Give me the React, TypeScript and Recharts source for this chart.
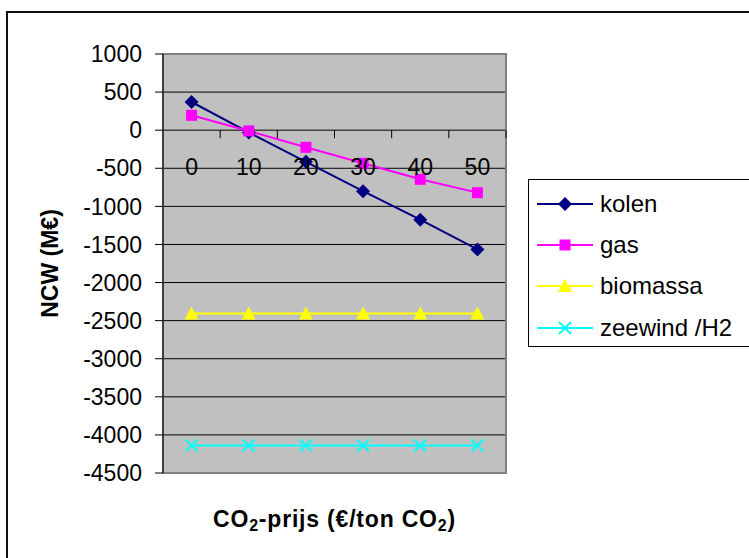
import React from 'react';
import { LineChart, Line, XAxis, YAxis, CartesianGrid, ReferenceArea, Legend, Label } from 'recharts';

// CO2 price categories (€/ton CO2)
const prices = ['0', '10', '20', '30', '40', '50'];

// NCW per option (M€)
const kolen = [370, -30, -415, -800, -1175, -1565];
const gas = [195, -10, -225, -435, -645, -820];
const biomassa = [-2405, -2405, -2405, -2405, -2405, -2405];
const zeewind = [-4140, -4140, -4140, -4140, -4140, -4140];

const yTicks = [1000, 500, 0, -500, -1000, -1500, -2000, -2500, -3000, -3500, -4000, -4500];

const data = prices.map((price, i) => ({
    price,
    kolen: kolen[i],
    gas: gas[i],
    biomassa: biomassa[i],
    zeewind: zeewind[i],
}));

const FONT = '"Liberation Sans", Arial, sans-serif';

const WIDTH = 749;
const HEIGHT = 558;
const MARGIN = { top: 54, right: 243, bottom: 0, left: 0 };
const Y_AXIS_W = 163;
const X_AXIS_H = 85;
const Y_MIN = -4500;
const Y_MAX = 1000;

const PLOT_W = WIDTH - MARGIN.right - MARGIN.left - Y_AXIS_W;
const PLOT_H = HEIGHT - MARGIN.top - MARGIN.bottom - X_AXIS_H;
// category axis is drawn along the zero line, Excel style
const ZERO_Y = MARGIN.top + (PLOT_H * Y_MAX) / (Y_MAX - Y_MIN);

type Marker = 'diamond' | 'square' | 'triangle' | 'cross';

const series: { key: 'kolen' | 'gas' | 'biomassa' | 'zeewind'; name: string; color: string; marker: Marker }[] = [
    { key: 'kolen', name: 'kolen', color: '#000080', marker: 'diamond' },
    { key: 'gas', name: 'gas', color: '#FF00FF', marker: 'square' },
    { key: 'biomassa', name: 'biomassa', color: '#FFFF00', marker: 'triangle' },
    { key: 'zeewind', name: 'zeewind /H2', color: '#00FFFF', marker: 'cross' },
];

const MarkerShape = ({ cx, cy, color, marker }: { cx: number; cy: number; color: string; marker: Marker }) => {
    if (marker === 'diamond') {
        return <polygon points={`${cx},${cy - 7} ${cx + 7},${cy} ${cx},${cy + 7} ${cx - 7},${cy}`} fill={color} />;
    }
    if (marker === 'square') {
        return <rect x={cx - 5.5} y={cy - 5.5} width={11} height={11} fill={color} />;
    }
    if (marker === 'triangle') {
        return <polygon points={`${cx},${cy - 7} ${cx + 7},${cy + 6} ${cx - 7},${cy + 6}`} fill={color} />;
    }
    return (
        <g stroke={color} strokeWidth={2}>
            <line x1={cx - 6} y1={cy - 6} x2={cx + 6} y2={cy + 6} />
            <line x1={cx - 6} y1={cy + 6} x2={cx + 6} y2={cy - 6} />
        </g>
    );
};

const CategoryTick = (props: any) => {
    const { x, payload } = props;
    const band = PLOT_W / prices.length;
    const edge = x + band / 2;
    return (
        <g>
            <line x1={edge} x2={edge} y1={ZERO_Y} y2={ZERO_Y + 8} stroke="#000" />
            <text
                x={x}
                y={ZERO_Y + 37}
                textAnchor="middle"
                dominantBaseline="central"
                fontSize={23}
                fontFamily={FONT}
                fill="#000"
            >
                {payload.value}
            </text>
        </g>
    );
};

const XTitle = () => (
    <text
        x={Y_AXIS_W + PLOT_W / 2}
        y={MARGIN.top + PLOT_H + 46}
        textAnchor="middle"
        dominantBaseline="central"
        fontSize={23}
        fontWeight="bold"
        fontFamily={FONT}
        letterSpacing={0.8}
        fill="#000"
    >
        CO<tspan fontSize={16} dy={6}>2</tspan>
        <tspan dy={-6}>-prijs (€/ton CO</tspan>
        <tspan fontSize={16} dy={6}>2</tspan>
        <tspan dy={-6}>)</tspan>
    </text>
);

const YTitle = () => {
    const cx = 50;
    const cy = MARGIN.top + PLOT_H / 2;
    return (
        <text
            x={cx}
            y={cy}
            transform={`rotate(-90, ${cx}, ${cy})`}
            textAnchor="middle"
            dominantBaseline="central"
            fontSize={23}
            fontWeight="bold"
            fontFamily={FONT}
            fill="#000"
        >
            NCW (M€)
        </text>
    );
};

const LegendBox = () => (
    <div
        style={{
            width: '100%',
            height: '100%',
            boxSizing: 'border-box',
            border: '1.5px solid #000',
            background: '#fff',
            paddingTop: 3,
            fontFamily: FONT,
        }}
    >
        {series.map((s) => (
            <div key={s.key} style={{ display: 'flex', alignItems: 'center', height: 41.3 }}>
                <svg width={66} height={20} style={{ display: 'block' }}>
                    <line x1={8} x2={64} y1={10} y2={10} stroke={s.color} strokeWidth={2} />
                    <MarkerShape cx={36} cy={10} color={s.color} marker={s.marker} />
                </svg>
                <span style={{ fontSize: 24, marginLeft: 5, color: '#000', lineHeight: 1 }}>{s.name}</span>
            </div>
        ))}
    </div>
);

export default function App() {
    return (
        <div style={{ position: 'absolute', left: 0, top: 0, width: WIDTH, height: HEIGHT, overflow: 'hidden', background: '#fff' }}>
            <div
                style={{
                    position: 'absolute',
                    left: 6,
                    top: 11,
                    width: WIDTH + 40,
                    height: HEIGHT + 40,
                    border: '2px solid #111',
                }}
            />
            <div style={{ position: 'absolute', left: 0, top: 0 }}>
                <LineChart width={WIDTH} height={HEIGHT} data={data} margin={MARGIN}>
                    <CartesianGrid vertical={false} stroke="#000" fill="#C0C0C0" fillOpacity={1} />
                    <ReferenceArea y1={Y_MIN} y2={Y_MAX} fill="none" stroke="#808080" strokeWidth={2} />
                    <XAxis
                        dataKey="price"
                        scale="band"
                        height={X_AXIS_H}
                        axisLine={false}
                        tickLine={false}
                        interval={0}
                        tick={<CategoryTick />}
                    >
                        <Label content={<XTitle />} />
                    </XAxis>
                    <YAxis
                        width={Y_AXIS_W}
                        domain={[Y_MIN, Y_MAX]}
                        ticks={yTicks}
                        interval={0}
                        stroke="#000"
                        tickSize={8}
                        tickMargin={13}
                        tick={{ fill: '#000', fontSize: 23, fontFamily: FONT }}
                    >
                        <Label content={<YTitle />} />
                    </YAxis>
                    {series.map((s) => (
                        <Line
                            key={s.key}
                            dataKey={s.key}
                            name={s.name}
                            stroke={s.color}
                            strokeWidth={2}
                            isAnimationActive={false}
                            dot={(p: any) => (
                                <MarkerShape key={`${s.key}-${p.index}`} cx={p.cx} cy={p.cy} color={s.color} marker={s.marker} />
                            )}
                            activeDot={false}
                        />
                    ))}
                    <Legend
                        layout="vertical"
                        align="center"
                        verticalAlign="middle"
                        wrapperStyle={{ left: 528, top: 179, width: 232, height: 168 }}
                        content={<LegendBox />}
                    />
                </LineChart>
            </div>
        </div>
    );
}
